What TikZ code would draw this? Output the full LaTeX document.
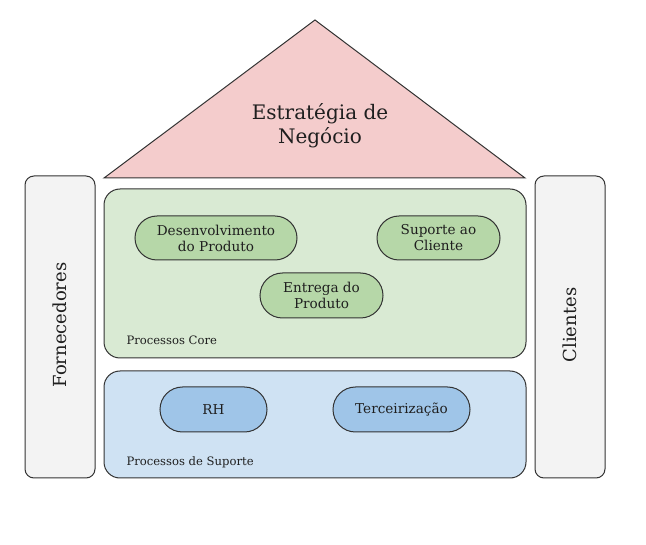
\documentclass[tikz,border=0pt]{standalone}
\usepackage{fontspec}
\setmainfont{DejaVu Serif}
\usetikzlibrary{shapes.misc}
\definecolor{roof}{HTML}{F4CCCC}
\definecolor{side}{HTML}{F3F3F3}
\definecolor{core}{HTML}{D9EAD3}
\definecolor{corepill}{HTML}{B6D7A8}
\definecolor{supp}{HTML}{CFE2F3}
\definecolor{supppill}{HTML}{9FC5E8}
\definecolor{edge}{HTML}{333333}
\tikzset{
  base/.style={draw=edge, line width=1pt},
  sidebox/.style={base, fill=side, rounded corners=9pt},
  bigbox/.style={base, rounded corners=16pt},
  pill/.style={base, rounded rectangle, inner sep=0pt, align=center, font=\fontsize{13.6}{16}\selectfont, text=black!88},
  cornerlabel/.style={anchor=west, font=\fontsize{11.6}{13}\selectfont, text=black!88},
}
\begin{document}
\begin{tikzpicture}[x=1pt,y=-1pt]
\useasboundingbox (0,0) rectangle (646,545);
% roof
\coordinate (apex) at (315,20);
\coordinate (bl) at (104,178);
\coordinate (br) at (525,178);
\draw[base, fill=roof, line join=miter] (apex) -- (br) -- (bl) -- cycle;
\node[align=center, font=\fontsize{20}{24}\selectfont, text=black!88] (title) at (320,126) {Estratégia de\\Negócio};
% sides
\draw[sidebox] (25,176) rectangle (95,478);
\node[rotate=90, font=\fontsize{18}{20}\selectfont, text=black!88] (forn) at (60,325) {Fornecedores};
\draw[sidebox] (535,176) rectangle (605,478);
\node[rotate=90, font=\fontsize{18}{20}\selectfont, text=black!88] (cli) at (570,325) {Clientes};
% core
\draw[bigbox, fill=core] (104,189) rectangle (526,358);
\node[pill, fill=corepill, minimum width=162pt, minimum height=44pt] (dev) at (216,238) {Desenvolvimento\\do Produto};
\node[pill, fill=corepill, minimum width=123pt, minimum height=44pt] (sup) at (438.5,238) {Suporte ao\\Cliente};
\node[pill, fill=corepill, minimum width=123pt, minimum height=45pt] (ent) at (321.5,295.5) {Entrega do\\Produto};
\node[cornerlabel] (corelbl) at (123,340) {Processos Core};
% support
\draw[bigbox, fill=supp] (104,371) rectangle (526,478);
\node[pill, fill=supppill, minimum width=107pt, minimum height=45pt] (rh) at (213.5,409.5) {RH};
\node[pill, fill=supppill, minimum width=137pt, minimum height=45pt] (terc) at (401.5,409.5) {Terceirização};
\node[cornerlabel] (supplbl) at (123,462) {Processos de Suporte};
\end{tikzpicture}
\end{document}
